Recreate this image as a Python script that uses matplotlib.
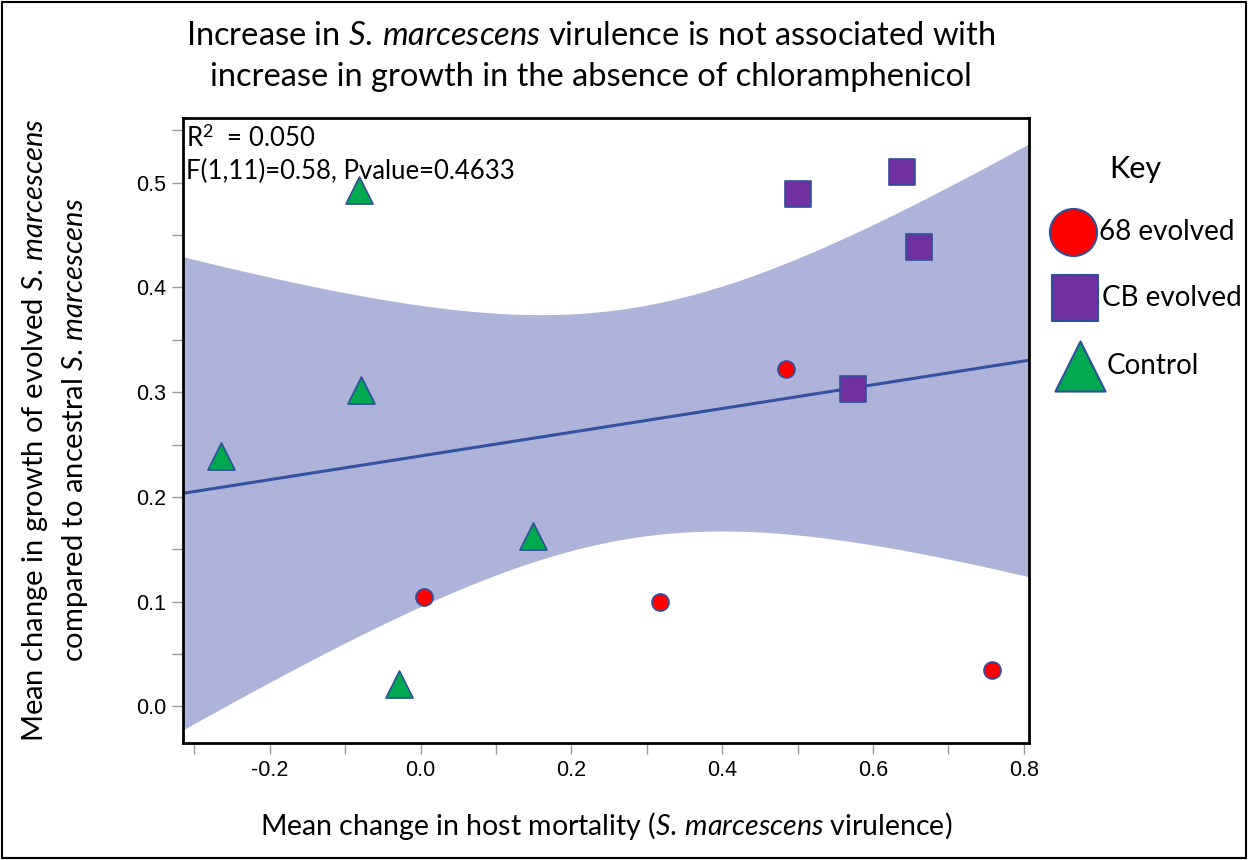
import numpy as np
import matplotlib
matplotlib.use("Agg")
import matplotlib.pyplot as plt
from matplotlib.ticker import MultipleLocator
from matplotlib.patches import Rectangle

# ---- data ----
control_x = [-0.082, -0.079, -0.264, 0.149, -0.029]
control_y = [0.493, 0.302, 0.239, 0.163, 0.021]
evo68_x = [0.005, 0.318, 0.484, 0.758]
evo68_y = [0.104, 0.100, 0.322, 0.035]
cb_x = [0.500, 0.638, 0.661, 0.574]
cb_y = [0.489, 0.510, 0.439, 0.303]
legend_labels = ["68 evolved", "CB evolved", "Control"]
xticks = [-0.2, 0.0, 0.2, 0.4, 0.6, 0.8]
yticks = [0.0, 0.1, 0.2, 0.3, 0.4, 0.5]
stats_text = ["R$^2$  = 0.050", "F(1,11)=0.58, Pvalue=0.4633"]

FONT = "Lato"
plt.rcParams["font.family"] = [FONT, "DejaVu Sans"]
plt.rcParams["mathtext.fontset"] = "custom"
plt.rcParams["mathtext.rm"] = FONT
plt.rcParams["mathtext.it"] = FONT + ":italic"

SM = r"$\mathit{S.\!\ marcescens}$"

RED = "#FF0000"
PURPLE = "#7030A0"
GREEN = "#00A850"
EDGE = "#2F4F9A"
BAND = "#AEB3DA"
LINE = "#3352A3"

fig = plt.figure(figsize=(12.48, 8.6), dpi=100)
ax = fig.add_axes([0.1466, 0.136, 0.678, 0.727])

# regression fit and 95% confidence band computed from the data
allx = np.array(control_x + evo68_x + cb_x)
ally = np.array(control_y + evo68_y + cb_y)
n = len(allx)
b, a = np.polyfit(allx, ally, 1)
resid = ally - (a + b * allx)
s = np.sqrt(np.sum(resid ** 2) / (n - 2))
xm = allx.mean()
sxx = np.sum((allx - xm) ** 2)
tval = 2.201
xx = np.linspace(-0.32, 0.81, 300)
yy = a + b * xx
se = s * np.sqrt(1.0 / n + (xx - xm) ** 2 / sxx)
ax.fill_between(xx, yy - tval * se, yy + tval * se, color=BAND, lw=0, zorder=1)
ax.plot(xx, yy, color=LINE, lw=2.2, zorder=2)

ax.scatter(evo68_x, evo68_y, s=150, marker="o", color=RED, edgecolor=EDGE, lw=1.2, zorder=3)
ax.scatter(cb_x, cb_y, s=360, marker="s", color=PURPLE, edgecolor=EDGE, lw=1.2, zorder=3)
ax.scatter(control_x, control_y, s=380, marker="^", color=GREEN, edgecolor=EDGE, lw=1.2, zorder=3)

ax.set_xlim(-0.315, 0.807)
ax.set_ylim(-0.035, 0.562)
ax.set_xticks(xticks)
ax.set_yticks(yticks)
ax.xaxis.set_minor_locator(MultipleLocator(0.1))
ax.yaxis.set_minor_locator(MultipleLocator(0.05))
ax.set_xticklabels([f"{v:.1f}" for v in xticks], family="Liberation Sans", fontsize=15.5)
ax.set_yticklabels([f"{v:.1f}" for v in yticks], family="Liberation Sans", fontsize=15.5)
ax.tick_params(which="both", direction="out", length=8, width=1, color="#999999", pad=4)
for sp in ax.spines.values():
    sp.set_linewidth(2)
    sp.set_color("black")

ax.text(0.004, 0.988, stats_text[0], transform=ax.transAxes, fontsize=18.5, va="top", ha="left")
ax.text(0.004, 0.935, stats_text[1], transform=ax.transAxes, fontsize=18.5, va="top", ha="left")

fig.text(0.4735, 0.958, "Increase in " + SM + " virulence is not associated with",
         fontsize=23.5, ha="center", va="center")
fig.text(0.4735, 0.911, "increase in growth in the absence of chloramphenicol",
         fontsize=23.5, ha="center", va="center")
fig.text(0.486, 0.040, "Mean change in host mortality (" + SM + " virulence)",
         fontsize=20.5, ha="center", va="center")
fig.text(0.028, 0.5, "Mean change in growth of evolved " + SM,
         fontsize=21, ha="center", va="center", rotation=90)
fig.text(0.060, 0.5, "compared to ancestral " + SM,
         fontsize=21, ha="center", va="center", rotation=90)

# legend ("Key")
lax = fig.add_axes([0, 0, 1, 1], facecolor="none")
lax.set_xlim(0, 1)
lax.set_ylim(0, 1)
lax.axis("off")
fig.text(0.9095, 0.804, "Key", fontsize=22, ha="center", va="center")
lmx = [0.860, 0.861, 0.865]
ly = [0.730, 0.654, 0.574]
mk = ["o", "s", "^"]
cols = [RED, PURPLE, GREEN]
sizes = [1150, 1100, 1300]
tx = [0.881, 0.883, 0.887]
for x0, y0, m, c, sz, t, lab in zip(lmx, ly, mk, cols, sizes, tx, legend_labels):
    lax.scatter([x0], [y0], s=sz, marker=m, color=c, edgecolor=EDGE, lw=1.5)
    lax.text(t, y0, lab, fontsize=20, ha="left", va="center")

# outer frame
lax.add_patch(Rectangle((0.002, 0.002), 0.996, 0.996, fill=False, lw=1.5, ec="black",
                        transform=fig.transFigure))

fig.savefig("out.png", dpi=100)
